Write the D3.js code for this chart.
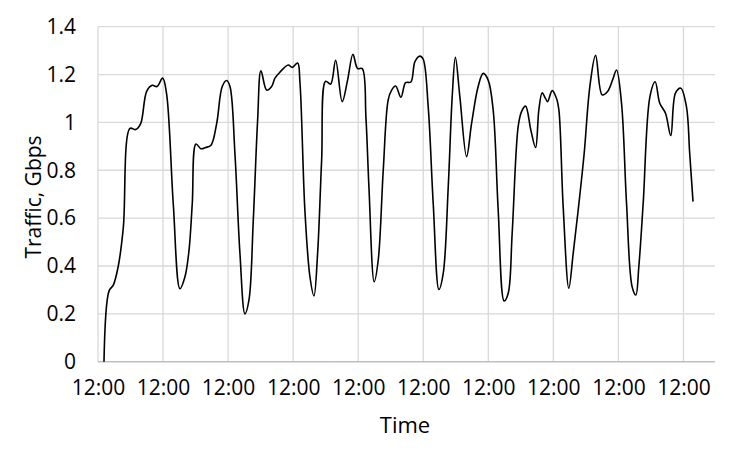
<!DOCTYPE html>
<html>
<head>
<meta charset="utf-8">
<script src="https://cdn.jsdelivr.net/npm/d3@7/dist/d3.min.js"></script>
<style>
  html, body { margin: 0; padding: 0; background: #fff; }
  svg { display: block; }
  text { font-family: "Open Sans", "Liberation Sans", sans-serif; fill: #000; }
</style>
</head>
<body>
<svg id="chart" width="748" height="460"></svg>
<script>
// Time in days since the first 12:00 tick
const times = [
  0.092, 0.169, 0.235, 0.312, 0.389, 0.492, 0.579, 0.656, 0.748, 0.834, 0.907, 0.994,
  1.054, 1.157, 1.260, 1.337, 1.399, 1.449, 1.506, 1.583, 1.655, 1.737, 1.824, 1.910, 1.978,
  2.029, 2.105, 2.182, 2.259, 2.321, 2.387, 2.454, 2.505, 2.593, 2.669, 2.720, 2.797, 2.925, 2.986,
  3.069, 3.104, 3.181, 3.258, 3.320, 3.376, 3.438, 3.499, 3.576, 3.653, 3.754, 3.837, 3.919, 3.991,
  4.062, 4.119, 4.165, 4.246, 4.308, 4.385, 4.461, 4.514, 4.575, 4.657, 4.729, 4.810, 4.872, 4.949, 4.999,
  5.076, 5.153, 5.241, 5.307, 5.384, 5.445, 5.494, 5.563, 5.666, 5.743, 5.844, 5.921, 5.998,
  6.075, 6.152, 6.244, 6.306, 6.367, 6.459, 6.511, 6.573, 6.654, 6.727, 6.777, 6.828, 6.870, 6.911, 6.982,
  7.049, 7.085, 7.151, 7.238, 7.305, 7.382, 7.474, 7.561, 7.649, 7.750, 7.833, 7.910, 7.971,
  8.048, 8.125, 8.211, 8.268, 8.314, 8.381, 8.484, 8.565, 8.636, 8.724, 8.805, 8.877, 8.959,
  9.046, 9.096, 9.147
];
const traffic = [
  0.00, 0.295, 0.32, 0.40, 0.56, 0.975, 0.97, 0.995, 1.13, 1.155, 1.15, 1.185,
  1.12, 0.66, 0.305, 0.355, 0.465, 0.66, 0.91, 0.89, 0.895, 0.905, 0.995, 1.15, 1.175,
  1.15, 0.87, 0.453, 0.20, 0.258, 0.59, 1.01, 1.216, 1.135, 1.15, 1.185, 1.21, 1.24, 1.23,
  1.248, 1.17, 0.63, 0.355, 0.275, 0.453, 0.843, 1.172, 1.16, 1.26, 1.087, 1.177, 1.285, 1.225,
  1.225, 1.02, 0.73, 0.334, 0.425, 0.80, 1.094, 1.135, 1.152, 1.105, 1.166, 1.169, 1.254, 1.277, 1.264,
  1.066, 0.662, 0.302, 0.369, 0.73, 1.107, 1.272, 1.107, 0.857, 0.996, 1.15, 1.205, 1.177,
  1.052, 0.634, 0.254, 0.286, 0.537, 0.982, 1.045, 1.068, 0.968, 0.895, 1.052, 1.124, 1.105, 1.087, 1.133,
  1.10, 1.052, 0.648, 0.307, 0.453, 0.634, 0.871, 1.15, 1.28, 1.115, 1.129, 1.177, 1.219,
  1.08, 0.662, 0.313, 0.279, 0.397, 0.662, 1.107, 1.17, 1.08, 1.038, 0.945, 1.122, 1.143,
  1.066, 0.871, 0.669
];
const xTickValues = [0, 1, 2, 3, 4, 5, 6, 7, 8, 9];
const xTickLabels = ["12:00", "12:00", "12:00", "12:00", "12:00", "12:00", "12:00", "12:00", "12:00", "12:00"];
const yTickValues = [0, 0.2, 0.4, 0.6, 0.8, 1, 1.2, 1.4];
const yTickLabels = ["0", "0.2", "0.4", "0.6", "0.8", "1", "1.2", "1.4"];
const xTitle = "Time";
const yTitle = "Traffic, Gbps";

(function () {
  const svg = d3.select("#chart");
  const pLeft = 98, pRight = 715, pTop = 26.7, pBottom = 361.7;
  const fontSize = "21px";

  const x = d3.scaleLinear().domain([0, 9.485]).range([pLeft, pRight]);
  const y = d3.scaleLinear().domain([0, 1.4]).range([pBottom, pTop]);

  // horizontal gridlines
  svg.append("g")
    .selectAll("line")
    .data(yTickValues.filter(v => v > 0))
    .join("line")
    .attr("x1", pLeft).attr("x2", pRight)
    .attr("y1", d => y(d)).attr("y2", d => y(d))
    .attr("stroke", "#d9d9d9").attr("stroke-width", 1.3);

  // vertical gridlines
  svg.append("g")
    .selectAll("line")
    .data(xTickValues)
    .join("line")
    .attr("x1", d => x(d)).attr("x2", d => x(d))
    .attr("y1", pTop).attr("y2", pBottom)
    .attr("stroke", "#d9d9d9").attr("stroke-width", 1.3);

  // x axis baseline
  svg.append("line")
    .attr("x1", pLeft).attr("x2", pRight)
    .attr("y1", y(0)).attr("y2", y(0))
    .attr("stroke", "#bfbfbf").attr("stroke-width", 1.5);

  // y tick labels
  const yAxis = d3.axisLeft(y).tickValues(yTickValues)
    .tickFormat((d, i) => yTickLabels[i]).tickSize(0).tickPadding(22);
  const gy = svg.append("g").attr("transform", `translate(${pLeft},0)`).call(yAxis);
  gy.select(".domain").remove();
  gy.selectAll("text").style("font-size", fontSize).style("font-family", '"Open Sans", sans-serif').attr("fill", "#000");

  // x tick labels
  const xAxis = d3.axisBottom(x).tickValues(xTickValues)
    .tickFormat((d, i) => xTickLabels[i]).tickSize(0).tickPadding(18);
  const gx = svg.append("g").attr("transform", `translate(0,${pBottom})`).call(xAxis);
  gx.select(".domain").remove();
  gx.selectAll("text").style("font-size", fontSize).style("font-family", '"Open Sans", sans-serif').attr("fill", "#000");

  // line
  const line = d3.line()
    .x((d, i) => x(times[i]))
    .y(d => y(d))
    .curve(d3.curveCatmullRom.alpha(0.5));
  svg.append("path")
    .datum(traffic)
    .attr("d", line)
    .attr("fill", "none")
    .attr("stroke", "#000")
    .attr("stroke-width", 1.6)
    .attr("stroke-linejoin", "round");

  // titles
  svg.append("text")
    .attr("x", 405).attr("y", 433)
    .attr("text-anchor", "middle")
    .style("font-size", "22px")
    .attr("fill", "#000")
    .text(xTitle);
  svg.append("text")
    .attr("transform", "translate(41,197) rotate(-90)")
    .attr("text-anchor", "middle")
    .style("font-size", "21px")
    .attr("fill", "#000")
    .text(yTitle);
})();
</script>
</body>
</html>
